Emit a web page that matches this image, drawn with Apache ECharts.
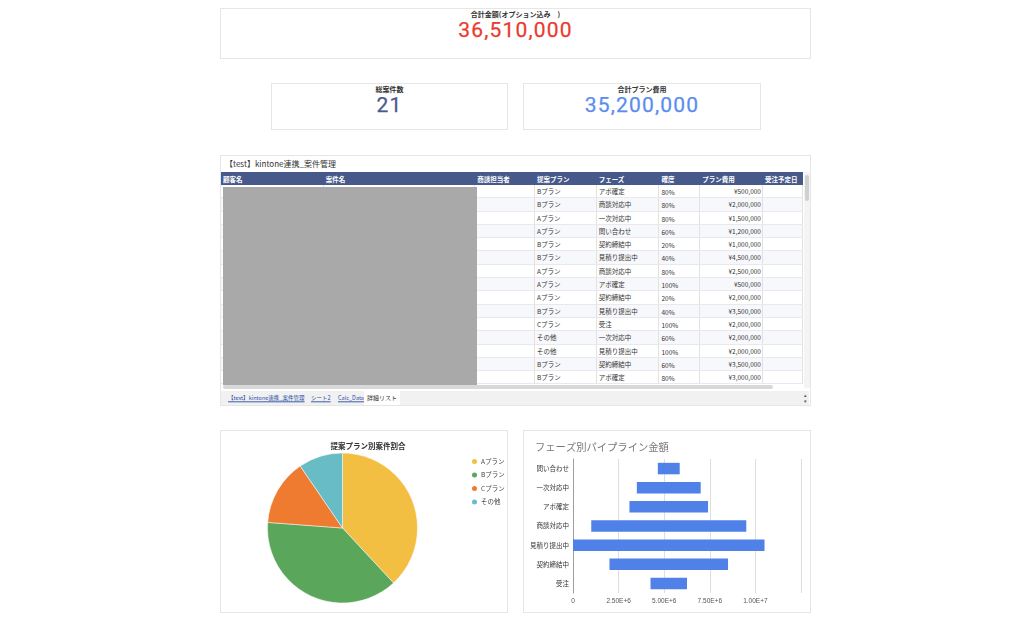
<!DOCTYPE html>
<html>
<head>
<meta charset="utf-8">
<script src="https://cdn.jsdelivr.net/npm/echarts@6/dist/echarts.min.js"></script>
<style>
	body { margin:0; background:#fff; font-family:"Noto Sans CJK JP","Liberation Sans",sans-serif; width:1024px; height:629px; overflow:hidden; position:relative; }
	.card { position:absolute; border:1px solid #e6e6e6; box-sizing:border-box; background:#fff; }
	.kpi_title { position:absolute; left:0; right:0; text-align:center; font-size:7px; line-height:9px; font-weight:bold; color:#333; }
	.kpi_val { position:absolute; left:0; right:0; text-align:center; font-family:Roboto,"Liberation Sans",sans-serif; font-size:21px; line-height:16px; letter-spacing:1.2px; -webkit-text-stroke:0.25px; }
	#tbl_wrap { position:absolute; left:0; top:16px; width:582px; height:213px; overflow:hidden; }
	#dapan_table { border-collapse:collapse; table-layout:fixed; font-size:6.5px; color:#333; }
	#dapan_table th { background:#46598a; color:#fff; font-weight:bold; text-align:left; height:13px; padding:0 2px; white-space:nowrap; overflow:hidden; border-right:1px solid #46598a; }
	#dapan_table td { height:12.3px; line-height:12.3px; padding:0 2px; white-space:nowrap; overflow:hidden; border-right:1px solid #e2e2e2; border-bottom:1px solid #e8e8ee; }
	#dapan_table tr:nth-child(odd) td { background:#f7f8fb; }
	#dapan_table td.num { text-align:right; padding-right:1px; }
	#dapan_table td.rate span { position:relative; top:1px; }
	#mask { position:absolute; left:2px; top:31px; width:254px; height:198px; background:#a9a9a9; }
	.tabs { position:absolute; left:0; top:235px; width:588px; height:14px; background:#f1f1f1; font-size:6px; }
	.tabs span { position:absolute; top:3px; color:#2a4fa8; text-decoration:underline; white-space:nowrap; transform-origin:left top; transform:scale(0.92); }
	.tabs span.act { top:0; height:14px; line-height:14px; background:#fff; color:#333; text-decoration:none; padding:0 3px; transform:none; font-size:6px; }
</style>
</head>
<body>
	<div class="card" style="left:220px;top:8px;width:591px;height:51px;">
		<div class="kpi_title" style="top:0.5px;">合計金額(オプション込み　)</div>
		<div class="kpi_val" id="kpi_total" style="top:12.5px;color:#ea3a2e;"></div>
	</div>
	<div class="card" style="left:271px;top:83px;width:237px;height:47px;">
		<div class="kpi_title" style="top:0.5px;">総案件数</div>
		<div class="kpi_val" id="kpi_count" style="top:12.5px;color:#4a5a8c;"></div>
	</div>
	<div class="card" style="left:523px;top:83px;width:238px;height:47px;">
		<div class="kpi_title" style="top:0.5px;">合計プラン費用</div>
		<div class="kpi_val" id="kpi_plan" style="top:12.5px;color:#5b8def;"></div>
	</div>

	<div class="card" style="left:220px;top:155px;width:591px;height:251px;">
		<div style="position:absolute;left:4px;top:2px;font-size:8px;color:#333;">【test】kintone連携_案件管理</div>
		<div id="tbl_wrap"><table id="dapan_table"></table></div>
		<div id="mask"></div>
		<div style="position:absolute;left:583px;top:16px;width:6px;height:216px;background:#f4f4f4;"></div>
		<div style="position:absolute;left:584px;top:19px;width:4px;height:26px;background:#d0d0d0;border-radius:2px;"></div>
		<div style="position:absolute;left:2px;top:229px;width:550px;height:4px;background:#d8d8d8;border-radius:2px;"></div>
		<div class="tabs">
			<span style="left:7px;">【test】kintone連携_案件管理</span>
			<span style="left:90px;">シート2</span>
			<span style="left:117px;">Calc_Data</span>
			<span class="act" style="left:143px;">詳細リスト</span>
		</div>
		<div style="position:absolute;left:583px;top:236px;font-size:5px;color:#555;line-height:6px;">▴<br>▾</div>
	</div>

	<div class="card" style="left:220px;top:430px;width:288px;height:183px;">
		<div id="pie_div" style="width:286px;height:181px;"></div>
	</div>
	<div class="card" style="left:523px;top:430px;width:288px;height:183px;">
		<div id="bar_div" style="width:286px;height:181px;"></div>
	</div>

<script>
// KPI
var kpiTotal = 36510000;
var kpiCount = 21;
var kpiPlan = 35200000;

// 詳細リスト
var tableHead = ['顧客名', '案件名', '商談担当者', '提案プラン', 'フェーズ', '確度', 'プラン費用', '受注予定日'];
var tableWidth = [103, 153, 60, 62, 63, 41, 63, 40];
var tablePlans = ['Bプラン','Bプラン','Aプラン','Aプラン','Bプラン','Bプラン','Aプラン','Aプラン','Aプラン','Bプラン','Cプラン','その他','その他','Bプラン','Bプラン'];
var tablePhases = ['アポ確定','商談対応中','一次対応中','問い合わせ','契約締結中','見積り提出中','商談対応中','アポ確定','契約締結中','見積り提出中','受注','一次対応中','見積り提出中','契約締結中','アポ確定'];
var tableRates = ['80%','80%','80%','60%','20%','40%','80%','100%','20%','40%','100%','60%','100%','60%','80%'];
var tableCosts = [500000, 2000000, 1500000, 1200000, 1000000, 4500000, 2500000, 500000, 2000000, 3500000, 2000000, 2000000, 2000000, 3500000, 3000000];

// 提案プラン別案件割合
var planNames = ['Aプラン', 'Bプラン', 'Cプラン', 'その他'];
var planCounts = [8, 8, 3, 2];
var planColors = ['#f2bf42', '#5aa75c', '#ee7b30', '#68bcc5'];

// フェーズ別パイプライン金額
var phaseNames = ['問い合わせ', '一次対応中', 'アポ確定', '商談対応中', '見積り提出中', '契約締結中', '受注'];
var phaseAmounts = [1200000, 3500000, 4310000, 8500000, 10500000, 6500000, 2000000];

function formatNumber(v){
	return String(v).replace(/\B(?=(\d{3})+(?!\d))/g, ',');
}

function initKpi(){
	document.getElementById('kpi_total').innerHTML = formatNumber(kpiTotal);
	document.getElementById('kpi_count').innerHTML = kpiCount;
	document.getElementById('kpi_plan').innerHTML = formatNumber(kpiPlan);
}

function buildTable(){
	var html = '<colgroup>';
	for (var c = 0; c < tableWidth.length; c++) {
		html += '<col style="width:' + tableWidth[c] + 'px">';
	}
	html += '</colgroup><tr>';
	for (var h = 0; h < tableHead.length; h++) {
		html += '<th>' + tableHead[h] + '</th>';
	}
	html += '</tr>';
	for (var i = 0; i < tablePlans.length; i++) {
		html += '<tr>' +
			'<td></td><td></td><td></td>' +
			'<td>' + tablePlans[i] + '</td>' +
			'<td>' + tablePhases[i] + '</td>' +
			'<td class="rate"><span>' + tableRates[i] + '</span></td>' +
			'<td class="num">¥' + formatNumber(tableCosts[i]) + '</td>' +
			'<td></td>' +
			'</tr>';
	}
	document.getElementById('dapan_table').innerHTML = html;
}

function getPieOption(){
	var data = [];
	for (var i = 0; i < planNames.length; i++) {
		data.push({ value: planCounts[i], name: planNames[i] });
	}
	return {
		animation: false,
		color: planColors,
		title: {
			text: '提案プラン別案件割合',
			left: 142, top: 6, textAlign: 'center',
			textStyle: { fontSize: 7.5, fontWeight: 'bold', color: '#333', fontFamily: 'Noto Sans CJK JP' }
		},
		legend: {
			orient: 'vertical', left: 244, top: 21,
			icon: 'circle', itemWidth: 7, itemHeight: 7, itemGap: 4.5,
			textStyle: { fontSize: 6.5, color: '#444', fontFamily: 'Noto Sans CJK JP', padding: [0, 0, 0, -2] },
			data: planNames
		},
		series: [{
			name: '提案プラン',
			type: 'pie',
			radius: 75,
			center: [121.5, 97],
			startAngle: 90,
			clockwise: true,
			label: { show: false },
			labelLine: { show: false },
			itemStyle: { borderColor: '#fff', borderWidth: 0.5 },
			data: data
		}]
	};
}

function getBarOption(){
	var maxV = Math.max.apply(null, phaseAmounts);
	var offsets = [];
	for (var i = 0; i < phaseAmounts.length; i++) {
		offsets.push((maxV - phaseAmounts[i]) / 2);
	}
	return {
		animation: false,
		title: {
			text: 'フェーズ別パイプライン金額',
			left: 6, top: 6,
			textStyle: { fontSize: 10.3, fontWeight: 'normal', color: '#777', fontFamily: 'Noto Sans CJK JP' }
		},
		grid: { left: 49, right: 9, top: 28, bottom: 19 },
		xAxis: {
			type: 'value', min: 0, max: 12500000, interval: 2500000,
			axisLine: { show: false }, axisTick: { show: false },
			splitLine: { lineStyle: { color: '#dedede' } },
			axisLabel: {
				fontSize: 6.5, color: '#555', margin: 5,
				formatter: function(v){
					if (v === 0) return '0';
					if (v >= 12500000) return '';
					return v.toExponential(2).toUpperCase();
				}
			}
		},
		yAxis: {
			type: 'category', inverse: true, data: phaseNames,
			axisLine: { show: true, lineStyle: { color: '#9e9e9e' } },
			axisTick: { show: false },
			axisLabel: { fontSize: 6.5, color: '#333', margin: 4, fontFamily: 'Noto Sans CJK JP' }
		},
		series: [
			{ name: 'offset', type: 'bar', stack: 'p', data: offsets, barWidth: 11.5,
				itemStyle: { color: 'transparent' }, silent: true },
			{ name: '金額', type: 'bar', stack: 'p', data: phaseAmounts, barWidth: 11.5,
				itemStyle: { color: '#4f81e8' } }
		]
	};
}

var pieChart = echarts.init(document.getElementById('pie_div'));
var barChart = echarts.init(document.getElementById('bar_div'));
initKpi();
buildTable();
pieChart.setOption(getPieOption());
barChart.setOption(getBarOption());
</script>
</body>
</html>
